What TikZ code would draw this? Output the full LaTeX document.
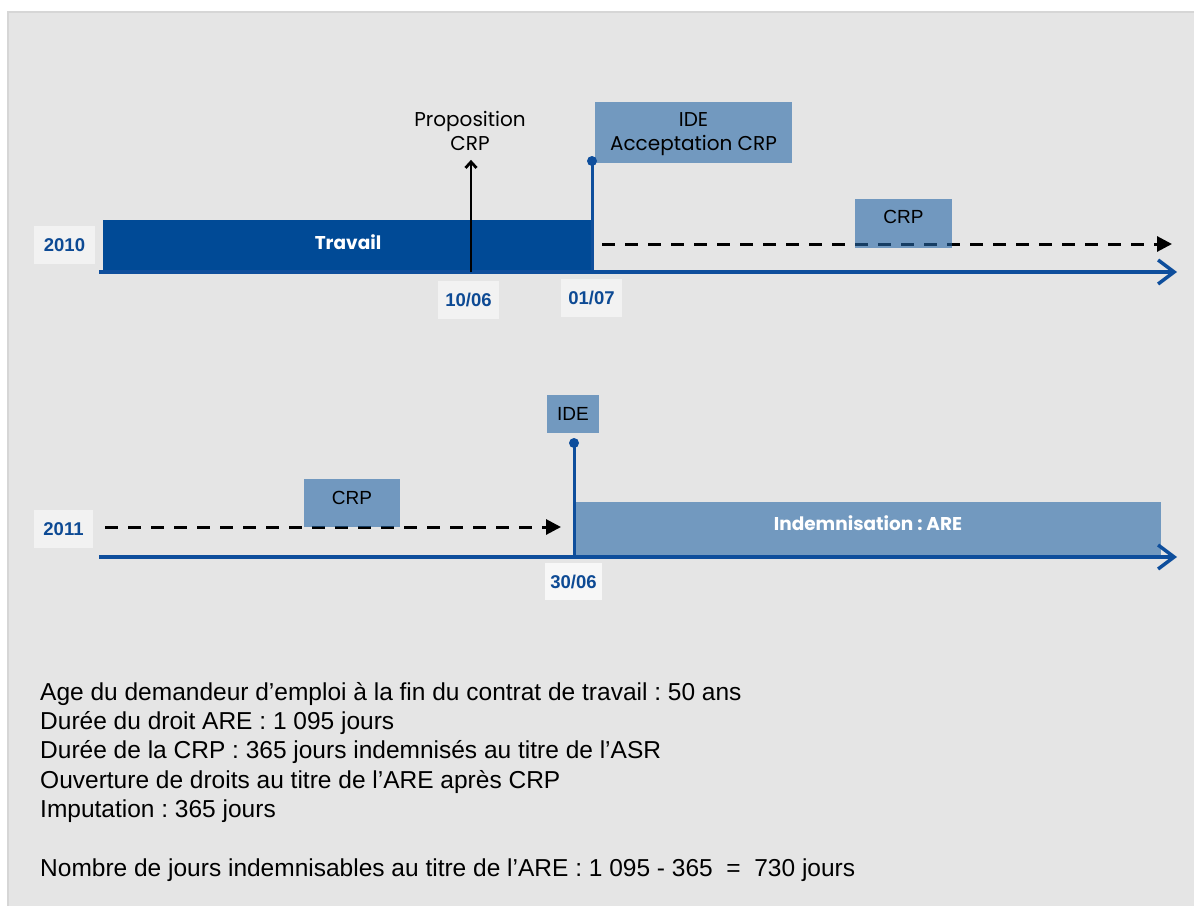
\documentclass[tikz,border=0pt]{standalone}
\usepackage{fontspec}
\setmainfont{Liberation Sans}
\newfontfamily\geo{Poppins}
\newfontfamily\hel{Liberation Sans}
\usetikzlibrary{arrows.meta}
\frenchspacing
\definecolor{bggray}{HTML}{E5E5E5}
\definecolor{bordergray}{HTML}{D6D6D6}
\definecolor{darkblue}{HTML}{004A96}
\definecolor{axisblue}{HTML}{0E4E9C}
\definecolor{lightblue}{HTML}{7299BF}
\definecolor{crpblue}{HTML}{2566A6}
\definecolor{labelbg}{HTML}{F2F2F2}
\definecolor{labeltext}{HTML}{0D4A94}
\begin{document}
\begin{tikzpicture}[x=1pt,y=-1pt,
  axis/.style={draw=axisblue,line width=3.5pt,-{Straight Barb[length=16pt,width=24pt]}},
  datebox/.style={fill=labelbg,inner sep=0pt,text=labeltext,font=\hel\fontsize{18.5}{20}\bfseries\selectfont},
  lbox/.style={fill=lightblue,inner sep=0pt},
  crpbox/.style={fill=crpblue,fill opacity=0.6,inner sep=0pt},
  boxtext/.style={inner sep=0pt,font=\hel\fontsize{19}{22}\selectfont},
  geotext/.style={inner sep=0pt,align=center,font=\geo\fontsize{20}{24}\selectfont},
  whitetext/.style={inner sep=0pt,text=white,font=\geo\fontsize{18.5}{20}\bfseries\selectfont},
  dasharrow/.style={draw=black,line width=3pt,dash pattern=on 13pt off 10pt,-{Triangle[length=15pt,width=15pt]}},
  pinline/.style={draw=axisblue,line width=3pt},
  pindot/.style={circle,fill=axisblue,inner sep=0pt,minimum size=10pt}]
\useasboundingbox (0,0) rectangle (1194,905);
\fill[white] (0,0) rectangle (1194,905);
\filldraw[fill=bggray,draw=bordergray,line width=1.5pt] (8,12) rectangle (1204,915);

% ---------- 2010 timeline ----------
\node[fill=darkblue,inner sep=0pt,minimum width=490,minimum height=52] (travail) at (348,246) {};
\node[whitetext] (travailtxt) at (348,242) {Travail};
\node[datebox,minimum width=61,minimum height=38] (y2010) at (64.5,245) {2010};
\coordinate (ax1s) at (99,272);
\coordinate (ax1e) at (1177,272);
\draw[axis] (ax1s) -- (ax1e);

\node[datebox,minimum width=61,minimum height=38] (d1006) at (468.5,300) {10/06};
\node[datebox,minimum width=61,minimum height=38] (d0107) at (591.5,298) {01/07};

\node[geotext] (prop) at (470,131) {Proposition\\CRP};
\coordinate (t1006) at (471,272);
\draw[line width=2.8pt,-{Straight Barb[length=6pt,width=11pt]},shorten >=9pt] (t1006) -- (t1006 |- prop.south);

\node[lbox,minimum width=197,minimum height=61] (ide1) at (693.5,132.5) {};
\node[geotext] (ide1txt) at (693.5,134) {IDE\\Acceptation CRP};
\coordinate (t0107) at (592,272);
\node[pindot] (dot1) at (592,161) {};
\draw[pinline] (t0107) -- (dot1.center);

\coordinate (ds1) at (602,244);
\coordinate (de1) at (1172,244);
\draw[dasharrow] (ds1) -- (de1);
\node[crpbox,minimum width=97,minimum height=49] (crp1) at (903.5,223.5) {};
\node[boxtext] (crp1txt) at (903.5,217) {CRP};

% ---------- 2011 timeline ----------
\node[datebox,minimum width=59,minimum height=38] (y2011) at (63.5,529) {2011};
\node[lbox,minimum width=586,minimum height=55] (indem) at (868,529.5) {};
\node[whitetext] (indemtxt) at (868,523) {Indemnisation : ARE};
\coordinate (ax2s) at (99,557);
\coordinate (ax2e) at (1177,557);
\draw[axis] (ax2s) -- (ax2e);

\coordinate (ds2) at (105,527);
\coordinate (de2) at (561,527);
\draw[dasharrow] (ds2) -- (de2);
\node[crpbox,minimum width=96,minimum height=48] (crp2) at (352,503) {};
\node[boxtext] (crp2txt) at (352,498) {CRP};

\node[lbox,minimum width=52,minimum height=38] (ide2) at (573,414) {};
\node[boxtext] (ide2txt) at (573,414) {IDE};
\coordinate (t3006) at (574,557);
\node[pindot] (dot2) at (574,443) {};
\draw[pinline] (t3006) -- (dot2.center);
\node[datebox,fill=labelbg!60!white,minimum width=57,minimum height=37] (d3006) at (573.5,581.5) {30/06};

% ---------- text ----------
\node[anchor=north west,inner sep=0pt,align=left,font=\hel\fontsize{24.5}{29.3}\selectfont] (notes) at (40,682) {%
Age du demandeur d’emploi à la fin du contrat de travail : 50 ans\\
Durée du droit ARE : 1 095 jours\\
Durée de la CRP : 365 jours indemnisés au titre de l’ASR\\
Ouverture de droits au titre de l’ARE après CRP\\
Imputation : 365 jours\\[29.3pt]
Nombre de jours indemnisables au titre de l’ARE : 1 095 - 365~~=~~730 jours};
\end{tikzpicture}
\end{document}
